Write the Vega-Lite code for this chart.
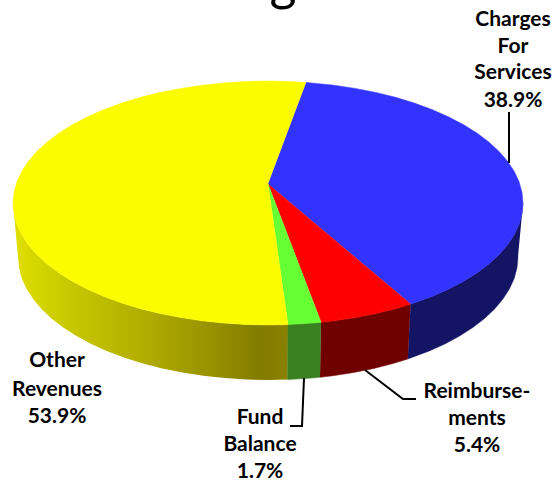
{"$schema":"https://vega.github.io/schema/vega-lite/v6.json","width":555,"height":482,"padding":0,"autosize":{"type":"none"},"background":"white","view":{"stroke":null},
"datasets":{
"yellowWall":[{"i":0,"u":20,"v":-121.6},{"i":1,"u":0,"v":-122},{"i":2,"u":-22.2,"v":-121.5},{"i":3,"u":-44.3,"v":-120.1},{"i":4,"u":-66,"v":-117.8},{"i":5,"u":-87.2,"v":-114.6},{"i":6,"u":-107.8,"v":-110.6},{"i":7,"u":-127.5,"v":-105.7},{"i":8,"u":-146.3,"v":-99.9},{"i":9,"u":-163.9,"v":-93.5},{"i":10,"u":-180.3,"v":-86.3},{"i":11,"u":-195.3,"v":-78.4},{"i":12,"u":-208.9,"v":-70},{"i":13,"u":-220.8,"v":-61},{"i":14,"u":-231.1,"v":-51.6},{"i":15,"u":-239.6,"v":-41.7},{"i":16,"u":-246.3,"v":-31.6},{"i":17,"u":-251.1,"v":-21.2},{"i":18,"u":-254,"v":-10.6},{"i":19,"u":-255,"v":0},{"i":20,"u":-250,"v":-54},{"i":21,"u":-249,"v":-64.7},{"i":22,"u":-246.2,"v":-75.4},{"i":23,"u":-241.5,"v":-85.8},{"i":24,"u":-234.9,"v":-96.1},{"i":25,"u":-226.6,"v":-106},{"i":26,"u":-216.5,"v":-115.5},{"i":27,"u":-204.8,"v":-124.6},{"i":28,"u":-191.5,"v":-133.1},{"i":29,"u":-176.8,"v":-141},{"i":30,"u":-160.7,"v":-148.2},{"i":31,"u":-143.4,"v":-154.8},{"i":32,"u":-125,"v":-160.5},{"i":33,"u":-105.7,"v":-165.5},{"i":34,"u":-85.5,"v":-169.6},{"i":35,"u":-64.7,"v":-172.8},{"i":36,"u":-43.4,"v":-175.1},{"i":37,"u":-21.8,"v":-176.5},{"i":38,"u":0,"v":-177},{"i":39,"u":19.6,"v":-176.6}],
"pieces":[
{"p":"bw","i":0,"u":255,"v":0},{"p":"bw","i":1,"u":254,"v":-10.6},{"p":"bw","i":2,"u":251.1,"v":-21.2},{"p":"bw","i":3,"u":246.3,"v":-31.6},{"p":"bw","i":4,"u":239.6,"v":-41.7},{"p":"bw","i":5,"u":231.1,"v":-51.6},{"p":"bw","i":6,"u":220.8,"v":-61},{"p":"bw","i":7,"u":208.9,"v":-70},{"p":"bw","i":8,"u":195.3,"v":-78.4},{"p":"bw","i":9,"u":180.3,"v":-86.3},{"p":"bw","i":10,"u":163.9,"v":-93.5},{"p":"bw","i":11,"u":142.6,"v":-101.1},{"p":"bw","i":12,"u":139.8,"v":-156},{"p":"bw","i":13,"u":160.7,"v":-148.2},{"p":"bw","i":14,"u":176.8,"v":-141},{"p":"bw","i":15,"u":191.5,"v":-133.1},{"p":"bw","i":16,"u":204.8,"v":-124.6},{"p":"bw","i":17,"u":216.5,"v":-115.5},{"p":"bw","i":18,"u":226.6,"v":-106},{"p":"bw","i":19,"u":234.9,"v":-96.1},{"p":"bw","i":20,"u":241.5,"v":-85.8},{"p":"bw","i":21,"u":246.2,"v":-75.4},{"p":"bw","i":22,"u":249,"v":-64.7},{"p":"bw","i":23,"u":250,"v":-54},
{"p":"rw","i":0,"u":142.6,"v":-101.1},{"p":"rw","i":1,"u":127.5,"v":-105.7},{"p":"rw","i":2,"u":107.8,"v":-110.6},{"p":"rw","i":3,"u":87.2,"v":-114.6},{"p":"rw","i":4,"u":66,"v":-117.8},{"p":"rw","i":5,"u":53,"v":-119.3},{"p":"rw","i":6,"u":52,"v":-174.3},{"p":"rw","i":7,"u":64.7,"v":-172.8},{"p":"rw","i":8,"u":85.5,"v":-169.6},{"p":"rw","i":9,"u":105.7,"v":-165.5},{"p":"rw","i":10,"u":125,"v":-160.5},{"p":"rw","i":11,"u":139.8,"v":-156},
{"p":"gw","i":0,"u":53,"v":-119.3},{"p":"gw","i":1,"u":44.3,"v":-120.1},{"p":"gw","i":2,"u":20,"v":-121.6},{"p":"gw","i":3,"u":19.6,"v":-176.6},{"p":"gw","i":4,"u":43.4,"v":-175.1},{"p":"gw","i":5,"u":52,"v":-174.3},
{"p":"b","i":0,"u":0,"v":19},{"p":"b","i":1,"u":38.1,"v":120.6},{"p":"b","i":2,"u":66,"v":117.8},{"p":"b","i":3,"u":87.2,"v":114.6},{"p":"b","i":4,"u":107.8,"v":110.6},{"p":"b","i":5,"u":127.5,"v":105.7},{"p":"b","i":6,"u":146.3,"v":99.9},{"p":"b","i":7,"u":163.9,"v":93.5},{"p":"b","i":8,"u":180.3,"v":86.3},{"p":"b","i":9,"u":195.3,"v":78.4},{"p":"b","i":10,"u":208.9,"v":70},{"p":"b","i":11,"u":220.8,"v":61},{"p":"b","i":12,"u":231.1,"v":51.6},{"p":"b","i":13,"u":239.6,"v":41.7},{"p":"b","i":14,"u":246.3,"v":31.6},{"p":"b","i":15,"u":251.1,"v":21.2},{"p":"b","i":16,"u":254,"v":10.6},{"p":"b","i":17,"u":255,"v":0},{"p":"b","i":18,"u":254,"v":-10.6},{"p":"b","i":19,"u":251.1,"v":-21.2},{"p":"b","i":20,"u":246.3,"v":-31.6},{"p":"b","i":21,"u":239.6,"v":-41.7},{"p":"b","i":22,"u":231.1,"v":-51.6},{"p":"b","i":23,"u":220.8,"v":-61},{"p":"b","i":24,"u":208.9,"v":-70},{"p":"b","i":25,"u":195.3,"v":-78.4},{"p":"b","i":26,"u":180.3,"v":-86.3},{"p":"b","i":27,"u":163.9,"v":-93.5},{"p":"b","i":28,"u":142.6,"v":-101.1},
{"p":"r","i":0,"u":0,"v":19},{"p":"r","i":1,"u":142.6,"v":-101.1},{"p":"r","i":2,"u":127.5,"v":-105.7},{"p":"r","i":3,"u":107.8,"v":-110.6},{"p":"r","i":4,"u":87.2,"v":-114.6},{"p":"r","i":5,"u":66,"v":-117.8},{"p":"r","i":6,"u":53,"v":-119.3},
{"p":"g","i":0,"u":0,"v":19},{"p":"g","i":1,"u":53,"v":-119.3},{"p":"g","i":2,"u":44.3,"v":-120.1},{"p":"g","i":3,"u":20,"v":-121.6},
{"p":"y","i":0,"u":0,"v":19},{"p":"y","i":1,"u":20,"v":-121.6},{"p":"y","i":2,"u":0,"v":-122},{"p":"y","i":3,"u":-22.2,"v":-121.5},{"p":"y","i":4,"u":-44.3,"v":-120.1},{"p":"y","i":5,"u":-66,"v":-117.8},{"p":"y","i":6,"u":-87.2,"v":-114.6},{"p":"y","i":7,"u":-107.8,"v":-110.6},{"p":"y","i":8,"u":-127.5,"v":-105.7},{"p":"y","i":9,"u":-146.3,"v":-99.9},{"p":"y","i":10,"u":-163.9,"v":-93.5},{"p":"y","i":11,"u":-180.3,"v":-86.3},{"p":"y","i":12,"u":-195.3,"v":-78.4},{"p":"y","i":13,"u":-208.9,"v":-70},{"p":"y","i":14,"u":-220.8,"v":-61},{"p":"y","i":15,"u":-231.1,"v":-51.6},{"p":"y","i":16,"u":-239.6,"v":-41.7},{"p":"y","i":17,"u":-246.3,"v":-31.6},{"p":"y","i":18,"u":-251.1,"v":-21.2},{"p":"y","i":19,"u":-254,"v":-10.6},{"p":"y","i":20,"u":-255,"v":0},{"p":"y","i":21,"u":-254,"v":10.6},{"p":"y","i":22,"u":-251.1,"v":21.2},{"p":"y","i":23,"u":-246.3,"v":31.6},{"p":"y","i":24,"u":-239.6,"v":41.7},{"p":"y","i":25,"u":-231.1,"v":51.6},{"p":"y","i":26,"u":-220.8,"v":61},{"p":"y","i":27,"u":-208.9,"v":70},{"p":"y","i":28,"u":-195.3,"v":78.4},{"p":"y","i":29,"u":-180.3,"v":86.3},{"p":"y","i":30,"u":-163.9,"v":93.5},{"p":"y","i":31,"u":-146.3,"v":99.9},{"p":"y","i":32,"u":-127.5,"v":105.7},{"p":"y","i":33,"u":-107.8,"v":110.6},{"p":"y","i":34,"u":-87.2,"v":114.6},{"p":"y","i":35,"u":-66,"v":117.8},{"p":"y","i":36,"u":-44.3,"v":120.1},{"p":"y","i":37,"u":-22.2,"v":121.5},{"p":"y","i":38,"u":0,"v":122},{"p":"y","i":39,"u":22.2,"v":121.5},{"p":"y","i":40,"u":38.1,"v":120.6}
],
"leaders":[{"l":"c","i":0,"u":241,"v":91},{"l":"c","i":1,"u":241,"v":40},{"l":"f","i":0,"u":36,"v":-175},{"l":"f","i":1,"u":34,"v":-223},{"l":"f","i":2,"u":22,"v":-223},{"l":"r","i":0,"u":97,"v":-167},{"l":"r","i":1,"u":135,"v":-196},{"l":"r","i":2,"u":148,"v":-196}],
"labels":[{"t":"Charges","u":245,"v":183},{"t":"For","u":245,"v":156},{"t":"Services","u":245,"v":130},{"t":"38.9%","u":245,"v":102},{"t":"Other","u":-211,"v":-158},{"t":"Revenues","u":-211,"v":-187},{"t":"53.9%","u":-211,"v":-214},{"t":"Fund","u":-8,"v":-215},{"t":"Balance","u":-8,"v":-242},{"t":"1.7%","u":-8,"v":-269},{"t":"Reimburse-","u":209,"v":-189},{"t":"ments","u":209,"v":-216},{"t":"5.4%","u":209,"v":-243}]
},
"encoding":{"x":{"field":"u","type":"quantitative","scale":{"domain":[-268,287]},"axis":null},"y":{"field":"v","type":"quantitative","scale":{"domain":[-279,203]},"axis":null}},
"layer":[
{"data":{"name":"yellowWall"},"mark":{"type":"line","strokeWidth":0,"fill":{"gradient":"linear","x1":0,"y1":0,"x2":1,"y2":0,"stops":[{"offset":0,"color":"#e0e000"},{"offset":0.2,"color":"#c8c800"},{"offset":0.45,"color":"#b4b000"},{"offset":0.7,"color":"#9a9400"},{"offset":0.9,"color":"#827c00"},{"offset":1,"color":"#8a8000"}]}},"encoding":{"order":{"field":"i","type":"quantitative"}}},
{"data":{"name":"pieces"},"mark":{"type":"line","strokeWidth":0.5},"encoding":{"detail":{"field":"p"},"order":{"field":"i","type":"quantitative"},
"fill":{"field":"p","type":"nominal","legend":null,"scale":{"domain":["bw","rw","gw","b","r","g","y"],"range":["#141464","#700000","#3a8020","#3333ff","#ff0000","#66ff33","#fcfc00"]}},
"stroke":{"field":"p","type":"nominal","legend":null,"scale":{"domain":["bw","rw","gw","b","r","g","y"],"range":["#141464","#700000","#3a8020","#3333ff","#ff0000","#66ff33","#fcfc00"]}}}},
{"data":{"name":"leaders"},"mark":{"type":"line","color":"black","strokeWidth":2},"encoding":{"detail":{"field":"l"},"order":{"field":"i","type":"quantitative"}}},
{"data":{"name":"labels"},"mark":{"type":"text","font":"Lato","fontWeight":"bold","fontSize":21,"color":"black","align":"center","baseline":"middle"},"encoding":{"text":{"field":"t"}}},
{"data":{"values":[{"t":"g","u":15,"v":203}]},"mark":{"type":"text","font":"Lato","fontSize":52,"color":"black","align":"center","baseline":"alphabetic"},"encoding":{"text":{"field":"t"}}}
]}
